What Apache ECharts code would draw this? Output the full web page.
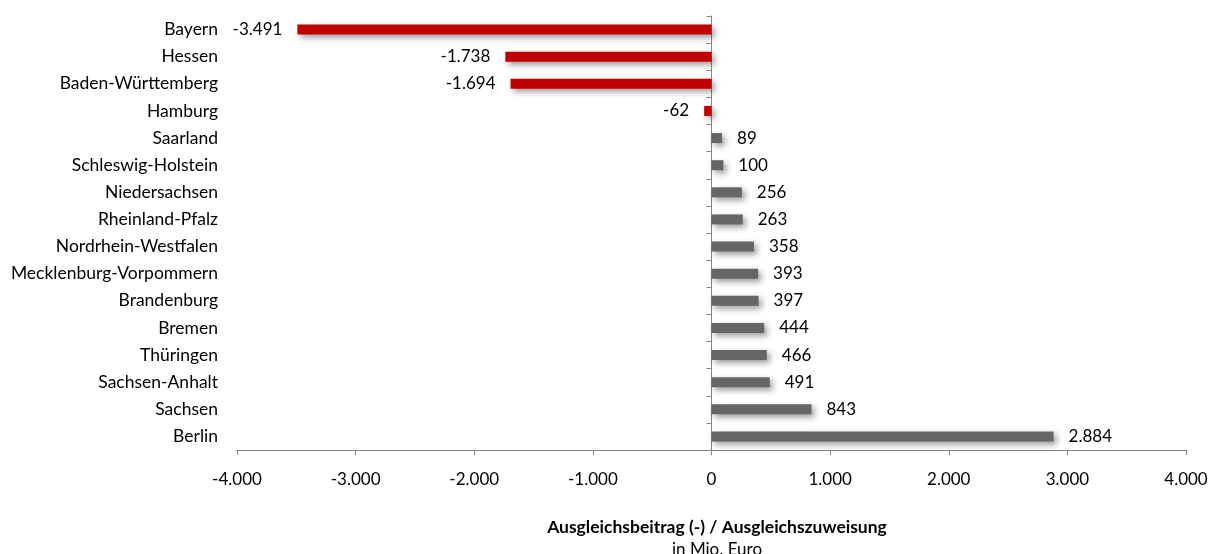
<!DOCTYPE html>
<html>
<head>
<meta charset="utf-8">
<script src="https://cdn.jsdelivr.net/npm/echarts@6/dist/echarts.min.js"></script>
<style>
  html, body { margin: 0; padding: 0; background: #ffffff; }
  #chart { width: 1215px; height: 554px; }
</style>
</head>
<body>
<div id="chart"></div>
<script>
// Länderfinanzausgleich: Ausgleichsbeiträge (-) und Ausgleichszuweisungen in Mio. Euro
const states = [
  'Bayern', 'Hessen', 'Baden-Württemberg', 'Hamburg', 'Saarland',
  'Schleswig-Holstein', 'Niedersachsen', 'Rheinland-Pfalz', 'Nordrhein-Westfalen',
  'Mecklenburg-Vorpommern', 'Brandenburg', 'Bremen', 'Thüringen',
  'Sachsen-Anhalt', 'Sachsen', 'Berlin'
];
const amounts = [
  -3491, -1738, -1694, -62, 89,
  100, 256, 263, 358,
  393, 397, 444, 466,
  491, 843, 2884
];
const axisTitle = 'Ausgleichsbeitrag (-) / Ausgleichszuweisung';
const axisUnit = 'in Mio. Euro';

const FONT = 'Lato';
const FS = 17;
const payColor = '#c00000';
const receiveColor = '#666666';
const axisColor = '#868686';

// German thousands separator
function fmt(v) {
  const s = Math.abs(v).toString().replace(/\B(?=(\d{3})+(?!\d))/g, '.');
  return (v < 0 ? '-' : '') + s;
}

// category axis runs top to bottom, so reverse for ECharts
const cats = states.slice().reverse();
const vals = amounts.slice().reverse();

const barData = vals.map(v => ({
  value: v,
  itemStyle: { color: v < 0 ? payColor : receiveColor },
  label: { position: v < 0 ? 'left' : 'right' }
}));

const chart = echarts.init(document.getElementById('chart'), null, { renderer: 'canvas' });
chart.setOption({
  animation: false,
  backgroundColor: '#ffffff',
  textStyle: { fontFamily: FONT },
  title: [
    {
      text: axisTitle,
      left: 712, top: 513, textAlign: 'center',
      textStyle: { fontFamily: FONT, fontSize: 17.5, fontWeight: 'bold', color: '#000' }
    },
    {
      text: axisUnit,
      left: 712, top: 536, textAlign: 'center',
      textStyle: { fontFamily: FONT, fontSize: FS, fontWeight: 'normal', color: '#000' }
    }
  ],
  grid: { left: 237, right: 29, top: 16, bottom: 104, containLabel: false },
  xAxis: {
    type: 'value',
    min: -4000, max: 4000, interval: 1000,
    axisLine: { show: true, lineStyle: { color: axisColor, width: 1 } },
    axisTick: { show: true, length: 5, lineStyle: { color: axisColor } },
    splitLine: { show: false },
    axisLabel: {
      margin: 21, color: '#000', fontFamily: FONT, fontSize: FS,
      formatter: v => fmt(v)
    }
  },
  yAxis: [
    {
      // axis line with ticks at the zero value
      type: 'category', data: cats,
      axisLine: { show: true, onZero: true, lineStyle: { color: axisColor, width: 1 } },
      axisTick: { show: true, length: 5, inside: false, lineStyle: { color: axisColor } },
      axisLabel: { show: false }
    },
    {
      // state names along the left edge
      type: 'category', data: cats, position: 'left',
      axisLine: { show: false, onZero: false },
      axisTick: { show: false },
      axisLabel: { show: true, margin: 19, color: '#000', fontFamily: FONT, fontSize: 17.5 }
    }
  ],
  series: [{
    type: 'bar',
    yAxisIndex: 0,
    data: barData,
    barWidth: 10,
    itemStyle: {
      shadowBlur: 6,
      shadowOffsetX: 3,
      shadowOffsetY: 3,
      shadowColor: 'rgba(0,0,0,0.4)'
    },
    label: {
      show: true,
      distance: 15,
      color: '#000',
      fontFamily: FONT,
      fontSize: FS,
      formatter: p => fmt(p.value)
    }
  }]
});
</script>
</body>
</html>
